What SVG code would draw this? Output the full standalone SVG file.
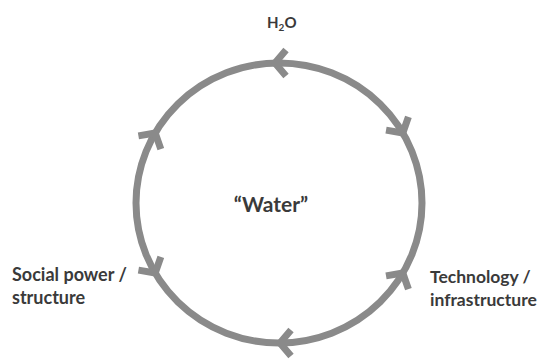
<svg xmlns="http://www.w3.org/2000/svg" width="541" height="360" viewBox="0 0 541 360">
<style>
.ring{fill:none;stroke:#8a8a8a;stroke-width:7}
.head{fill:none;stroke:#8a8a8a;stroke-width:7;stroke-linejoin:miter}
.lbl{font-family:Lato,"Open Sans","Liberation Sans",sans-serif;font-weight:700;fill:#3a3a3a}
</style>
<defs>
<path id="chev" d="M -11 -13 L 0 0 L -11 13"/>
</defs>
<rect width="541" height="360" fill="#ffffff"/>
<g id="connectors">
<ellipse class="ring" cx="279" cy="203" rx="143" ry="140"/>
<use href="#chev" class="head" transform="translate(275,63) rotate(180)"/>
<use href="#chev" class="head" transform="translate(402.8,133) rotate(59.5)"/>
<use href="#chev" class="head" transform="translate(402.8,273) rotate(-59.5)"/>
<use href="#chev" class="head" transform="translate(280,343) rotate(180)"/>
<use href="#chev" class="head" transform="translate(155.2,273) rotate(59.5)"/>
<use href="#chev" class="head" transform="translate(155.2,133) rotate(-59.5)"/>
</g>
<g id="node-h2o">
<text class="lbl" x="267" y="28" font-size="15">H<tspan font-size="10" dy="3">2</tspan><tspan dy="-3">O</tspan></text>
</g>
<g id="node-water">
<text class="lbl" x="271" y="212" font-size="21" text-anchor="middle">“Water”</text>
</g>
<g id="node-social">
<text class="lbl" x="12" y="281" font-size="18">Social power /</text>
<text class="lbl" x="12" y="304" font-size="18">structure</text>
</g>
<g id="node-tech">
<text class="lbl" x="430" y="283" font-size="17.5">Technology /</text>
<text class="lbl" x="430" y="306" font-size="17.5">infrastructure</text>
</g>
</svg>
